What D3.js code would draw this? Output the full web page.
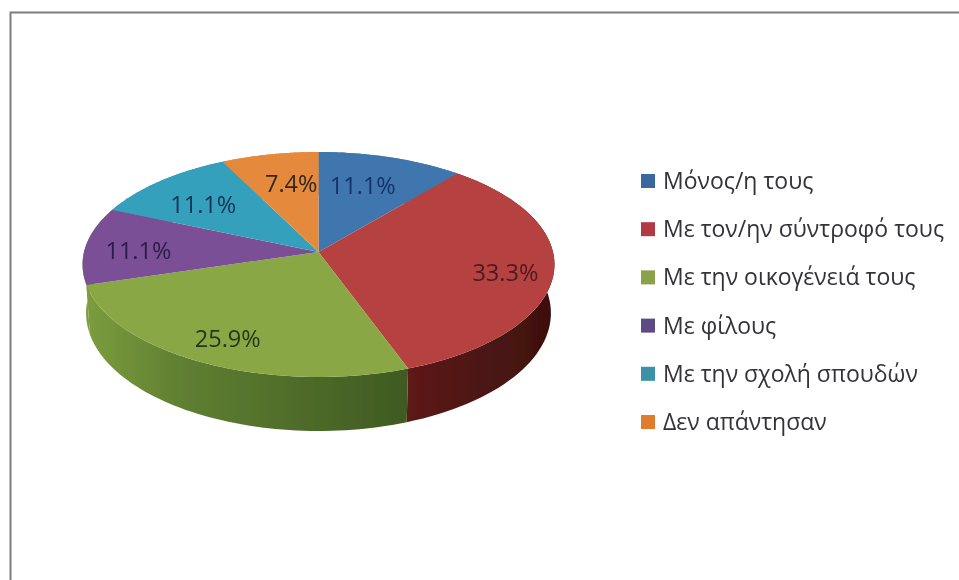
<!DOCTYPE html>
<html>
<head>
<meta charset="utf-8">
<script src="https://cdn.jsdelivr.net/npm/d3@7"></script>
<style>
  html, body { margin: 0; padding: 0; background: #fff; }
  svg { display: block; font-family: "Open Sans", "Noto Sans", sans-serif; }
</style>
</head>
<body>
<svg id="chart" width="959" height="580"></svg>
<script>
const categories = ["Μόνος/η τους", "Με τον/ην σύντροφό τους", "Με την οικογένειά τους", "Με φίλους", "Με την σχολή σπουδών", "Δεν απάντησαν"];
const shares = [11.1, 33.3, 25.9, 11.1, 11.1, 7.4];
const colors = ["#3f76ae", "#b5433f", "#89a845", "#7a5096", "#36a0bb", "#e58a3c"];
const legendColors = ["#38689c", "#b03a42", "#8aa14a", "#5b4b86", "#3a92a6", "#e07b2e"];
const labelColors = ["#16306a", "#4a1a20", "#23381a", "#2c1a4a", "#12305a", "#33281a"];
// how far out along the slice each percentage sits (1 = rim), then a nudge by hand
const labelRadius = [0.7, 0.78, 0.77, 0.76, 0.68, 0.68];
const labelNudge = [[-8, 2], [4, 6], [-3, 4], [-3, 4], [-5, 2], [7, 0]];

const width = 959;
const height = 580;
const cx = 318.5;
const cy = 252;
const rx = 234.5;
const ry = 111.1;
const tilt = 1 / 9;   // near edge is drawn larger than the far edge
const depth = 48;

const svg = d3.select("#chart");
const defs = svg.append("defs");

defs.append("filter").attr("id", "soft")
  .append("feGaussianBlur").attr("stdDeviation", 0.6);

const sideGreen = defs.append("linearGradient").attr("id", "side-2");
sideGreen.append("stop").attr("offset", "0%").attr("stop-color", "#7c9c3e");
sideGreen.append("stop").attr("offset", "30%").attr("stop-color", "#5f7f31");
sideGreen.append("stop").attr("offset", "100%").attr("stop-color", "#3f5a22");

const sideRed = defs.append("linearGradient").attr("id", "side-1");
sideRed.append("stop").attr("offset", "0%").attr("stop-color", "#5e1a18");
sideRed.append("stop").attr("offset", "100%").attr("stop-color", "#3d100f");

// border of the pasted picture
svg.append("path")
  .attr("d", `M10.5,${height}V12.5H${width}`)
  .attr("fill", "none")
  .attr("stroke", "#7f7f7f")
  .attr("stroke-width", 2)
  .attr("filter", "url(#soft)");

const pie = d3.pie().sort(null).value(d => d);
const slices = pie(shares);

function topPoint(angle, r) {
  const u = Math.sin(angle) * r;
  const v = -Math.cos(angle) * r;
  const w = 1 - tilt * v;
  return [cx + rx * u / w, cy + ry * v / w];
}

function bottomPoint(angle) {
  const p = topPoint(angle, 1);
  const w = 1 + tilt * Math.cos(angle);
  return [cx + (p[0] - cx) * 0.985, p[1] + depth / w];
}

function rim(d, fn) {
  return d3.range(0, 61).map(i => fn(d.startAngle + (d.endAngle - d.startAngle) * i / 60));
}

const line = d3.line();
const pieGroup = svg.append("g").attr("filter", "url(#soft)");

// the purple slice's wall only shows as a sliver under the green one, so it takes the green colour
pieGroup.selectAll(".side")
  .data(slices)
  .enter().append("path")
  .attr("class", "side")
  .attr("fill", (d, i) => i === 1 || i === 2 ? `url(#side-${i})` : i === 3 ? "#7c9c3e" : colors[i])
  .attr("d", d => line(rim(d, a => topPoint(a, 1)).concat(rim(d, bottomPoint).reverse())) + "Z");

pieGroup.selectAll(".top")
  .data(slices)
  .enter().append("path")
  .attr("class", "top")
  .attr("fill", (d, i) => colors[i])
  .attr("d", d => line([[cx, cy]].concat(rim(d, a => topPoint(a, 1)))) + "Z");

pieGroup.selectAll(".pct")
  .data(slices)
  .enter().append("text")
  .attr("class", "pct")
  .attr("text-anchor", "middle")
  .attr("font-size", 23.5)
  .attr("fill", (d, i) => labelColors[i])
  .attr("transform", (d, i) => {
    const p = topPoint((d.startAngle + d.endAngle) / 2, labelRadius[i]);
    return `translate(${p[0] + labelNudge[i][0]},${p[1] + 8 + labelNudge[i][1]})`;
  })
  .text(d => d.value.toFixed(1) + "%");

const legendY = d3.scalePoint().domain(categories).range([181, 422]);
const legend = svg.append("g").attr("filter", "url(#soft)")
  .selectAll("g")
  .data(categories)
  .enter().append("g")
  .attr("transform", d => `translate(641,${legendY(d)})`);

legend.append("rect")
  .attr("y", -7)
  .attr("width", 14)
  .attr("height", 14)
  .attr("fill", (d, i) => legendColors[i]);

legend.append("text")
  .attr("x", 22)
  .attr("y", 8)
  .attr("font-size", 23)
  .attr("fill", "#33333a")
  .text(d => d);
</script>
</body>
</html>
